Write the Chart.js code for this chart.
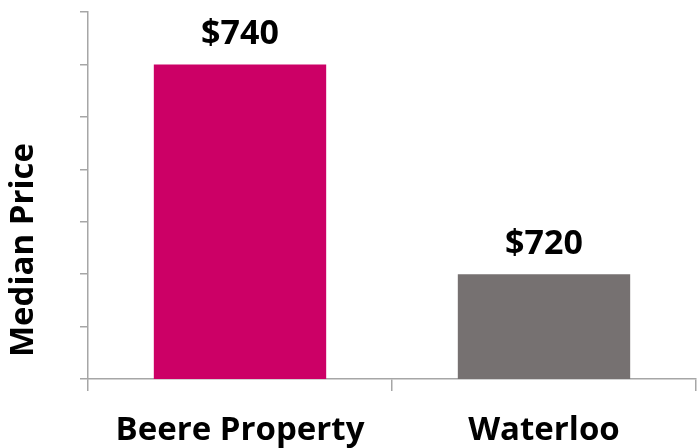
<!DOCTYPE html>
<html lang="en">
<head>
  <meta charset="UTF-8">
  <title>Median Price</title>
  <style>
    html, body { margin: 0; padding: 0; background: #fff; }
    .wrap { width: 697px; height: 448px; }
  </style>
</head>
<body>
  <div class="wrap"><canvas id="chart" width="697" height="448"></canvas></div>

  <script src="https://cdn.jsdelivr.net/npm/chart.js"></script>
  <script>
    const categories = ["Beere Property", "Waterloo"];
    const medianPrice = [740, 720];
    const priceLabels = ["$740", "$720"];
    const barColors = ["#cc0066", "#767171"];
    const yTitle = "Median Price";

    const FONT = "'Open Sans', 'Liberation Sans', sans-serif";

    // $ values above the bars + the rotated y title
    const textPlugin = {
      id: "textPlugin",
      afterDatasetsDraw(chart) {
        const ctx = chart.ctx;
        const meta = chart.getDatasetMeta(0);
        ctx.save();
        ctx.font = "bold 34px " + FONT;
        ctx.fillStyle = "#000";
        ctx.textAlign = "center";
        ctx.textBaseline = "alphabetic";
        meta.data.forEach(function (bar, i) {
          ctx.fillText(priceLabels[i], bar.x, bar.y - 20);
        });

        const area = chart.chartArea;
        ctx.font = "bold 33px " + FONT;
        ctx.textBaseline = "middle";
        ctx.translate(24, area.bottom - 129);
        ctx.rotate(-Math.PI / 2);
        ctx.fillText(yTitle, 0, 0);
        ctx.restore();
      }
    };

    new Chart(document.getElementById("chart").getContext("2d"), {
      type: "bar",
      data: {
        labels: categories,
        datasets: [{
          data: medianPrice,
          backgroundColor: barColors,
          categoryPercentage: 1,
          barPercentage: 0.567
        }]
      },
      options: {
        responsive: false,
        animation: false,
        layout: { padding: { top: 12, right: 1, bottom: 0, left: 0 } },
        plugins: {
          legend: { display: false },
          tooltip: { enabled: false }
        },
        scales: {
          x: {
            afterFit(scale) { scale.height = 69; },
            grid: {
              drawOnChartArea: false,
              tickLength: 12,
              color: "#a6a6a6",
              lineWidth: 1.5
            },
            border: { color: "#a6a6a6", width: 1.5 },
            ticks: {
              color: "#000",
              font: { family: FONT, size: 33, weight: "bold", lineHeight: 1 },
              padding: 23,
              maxRotation: 0
            }
          },
          y: {
            afterFit(scale) { scale.width = 88; },
            min: 710,
            max: 745,
            ticks: { stepSize: 5, display: false },
            grid: {
              drawOnChartArea: false,
              tickLength: 8,
              color: "#a6a6a6",
              lineWidth: 1.5
            },
            border: { color: "#a6a6a6", width: 1.5 }
          }
        }
      },
      plugins: [textPlugin]
    });
  </script>
</body>
</html>
